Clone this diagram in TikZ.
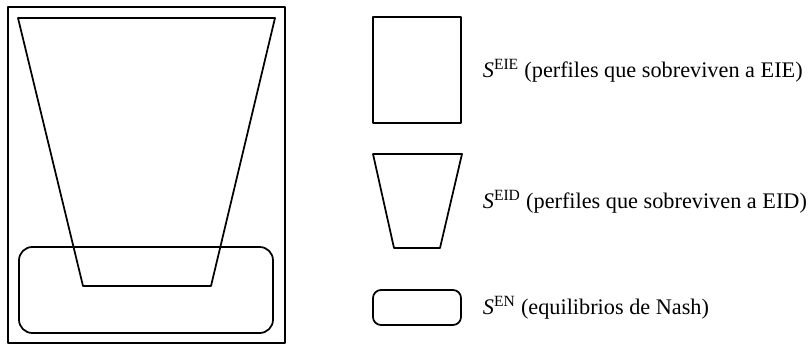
\documentclass[tikz,border=0pt]{standalone}
\usepackage{fontspec}
\setmainfont{Liberation Serif}
\begin{document}
\begin{tikzpicture}[x=0.75pt,y=-0.75pt, line join=round, line cap=round, line width=1.3pt,
    legendtext/.style={anchor=base west, inner sep=0pt, font=\fontsize{16.7}{20}\selectfont}]
        \useasboundingbox (0,0) rectangle (810,345);
        \def\lx{373} \def\rx{461}
        % conjunto completo
        \draw (8,7) rectangle (285,343);
        \draw (18,18)--(275,18)--(211,286)--(83,286)--cycle;
        \draw[rounded corners=10pt] (19,247) rectangle (273,333);
        % leyenda
        \draw (\lx,17) rectangle (\rx,123);
        \draw (\lx,154)--(462,154)--(440,248)--(394,248)--cycle;
        \draw[rounded corners=6pt] (\lx,290) rectangle (\rx,325);
        \node[legendtext] (eie) at (482,78) {\textit{S}\textsuperscript{EIE} (perfiles que sobreviven a EIE)};
        \node[legendtext] (eid) at (482,209) {\textit{S}\textsuperscript{EID} (perfiles que sobreviven a EID)};
        \node[legendtext] (en) at (482,315) {\textit{S}\textsuperscript{EN} (equilibrios de Nash)};
    \end{tikzpicture}
\end{document}
